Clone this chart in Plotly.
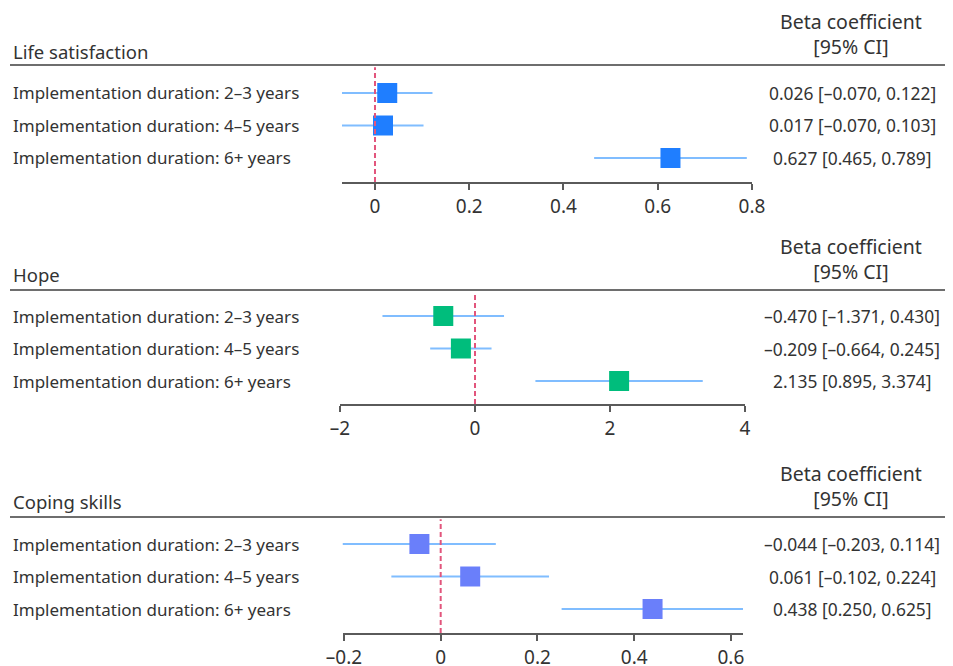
import plotly.graph_objects as go

# ---------------- data ----------------
panel_titles = ["Life satisfaction", "Hope", "Coping skills"]
row_labels = [
    "Implementation duration: 2–3 years",
    "Implementation duration: 4–5 years",
    "Implementation duration: 6+ years",
]
life_beta = [0.026, 0.017, 0.627]
life_lo = [-0.070, -0.070, 0.465]
life_hi = [0.122, 0.103, 0.789]
life_ticks = [0, 0.2, 0.4, 0.6, 0.8]
life_ticktext = ["0", "0.2", "0.4", "0.6", "0.8"]

hope_beta = [-0.470, -0.209, 2.135]
hope_lo = [-1.371, -0.664, 0.895]
hope_hi = [0.430, 0.245, 3.374]
hope_ticks = [-2, 0, 2, 4]
hope_ticktext = ["–2", "0", "2", "4"]

coping_beta = [-0.044, 0.061, 0.438]
coping_lo = [-0.203, -0.102, 0.250]
coping_hi = [0.114, 0.224, 0.625]
coping_ticks = [-0.2, 0, 0.2, 0.4, 0.6]
coping_ticktext = ["–0.2", "0", "0.2", "0.4", "0.6"]

col_header = "Beta coefficient<br>[95% CI]"

# ---------------- style / layout (window pixels) ----------------
OFF = 8                 # default page margin around the figure
WIN_W, WIN_H = 953, 666
W, H = WIN_W - OFF, WIN_H - OFF

marker_colors = ["#1f7eff", "#00bd7c", "#6a7ffa"]
ci_color = "#80bdff"
ref_color = "#e2557c"
text_color = "#333333"
font_family = "Noto Sans, Open Sans, sans-serif"

header_y = [65, 290, 517]      # gray header line (px from top of window)
axis_y = [182, 404, 633]       # x-axis line
title_y = [51, 274, 501]       # panel title centre
plot_left = [342, 340, 342.5]
plot_right = [752, 745, 743]
first_row_px = [93, 316, 544]
row_step = 32.5

panels = [
    (life_beta, life_lo, life_hi, life_ticks, life_ticktext),
    (hope_beta, hope_lo, hope_hi, hope_ticks, hope_ticktext),
    (coping_beta, coping_lo, coping_hi, coping_ticks, coping_ticktext),
]


def py(px):
    return 1 - (px - OFF) / H


def pxx(px):
    return (px - OFF) / W


fig = go.Figure()
annotations = []
shapes = []
layout_axes = {}

for i, (beta, lo, hi, ticks, ticktext) in enumerate(panels):
    n = i + 1
    xname = "x" if n == 1 else f"x{n}"
    yname = "y" if n == 1 else f"y{n}"
    xkey = "xaxis" if n == 1 else f"xaxis{n}"
    ykey = "yaxis" if n == 1 else f"yaxis{n}"
    rows = list(range(len(beta)))

    fig.add_trace(go.Scatter(
        x=beta, y=rows, xaxis=xname, yaxis=yname, mode="markers",
        marker=dict(symbol="square", size=20, color=marker_colors[i],
                    line=dict(width=0)),
        error_x=dict(type="data", symmetric=False,
                     array=[h - b for h, b in zip(hi, beta)],
                     arrayminus=[b - l for b, l in zip(beta, lo)],
                     color=ci_color, thickness=2, width=0),
        cliponaxis=False, showlegend=False, hoverinfo="skip",
    ))

    xmin = min(min(lo), min(ticks))
    xmax = max(max(hi), max(ticks))
    layout_axes[xkey] = dict(
        domain=[pxx(plot_left[i]), pxx(plot_right[i])],
        range=[xmin, xmax], anchor=yname,
        showline=True, linecolor="#5a5a5a", linewidth=2,
        ticks="outside", ticklen=6, tickwidth=2, tickcolor="#5a5a5a",
        tickvals=ticks, ticktext=ticktext,
        tickfont=dict(size=19, color=text_color, family=font_family),
        showgrid=False, zeroline=False, fixedrange=True, automargin=False,
    )
    top_val = -(first_row_px[i] - header_y[i]) / row_step
    bot_val = (len(beta) - 1) + (axis_y[i] - (first_row_px[i] + row_step * (len(beta) - 1))) / row_step
    layout_axes[ykey] = dict(
        domain=[py(axis_y[i]), py(header_y[i])],
        range=[bot_val, top_val], anchor=xname,
        visible=False, fixedrange=True, automargin=False,
    )

    shapes.append(dict(type="line", xref=xname, yref=f"{yname} domain",
                       x0=0, x1=0, y0=0, y1=0.98,
                       line=dict(color=ref_color, width=2, dash="5px,3px")))
    shapes.append(dict(type="line", xref="paper", yref="paper",
                       x0=pxx(10), x1=1, y0=py(header_y[i]), y1=py(header_y[i]),
                       line=dict(color="#6e6e6e", width=2)))

    annotations.append(dict(text=panel_titles[i], xref="paper", yref="paper",
                            x=pxx(11), y=py(title_y[i]), xanchor="left",
                            yanchor="middle", showarrow=False,
                            font=dict(size=18.5, color=text_color, family=font_family)))
    annotations.append(dict(text=col_header, xref="paper", yref="paper",
                            x=pxx(851), y=py(header_y[i] - 31), xanchor="center",
                            yanchor="middle", showarrow=False, align="center",
                            font=dict(size=19.5, color=text_color, family=font_family)))

    for r in rows:
        annotations.append(dict(text=row_labels[r], xref="paper", yref=yname,
                                x=pxx(11), y=r, xanchor="left", yanchor="middle",
                                showarrow=False,
                                font=dict(size=17, color=text_color, family=font_family)))
        ci_txt = f"{beta[r]:.3f} [{lo[r]:.3f}, {hi[r]:.3f}]".replace("-", "–")
        annotations.append(dict(text=ci_txt, xref="paper", yref=yname,
                                x=pxx(852), y=r, xanchor="center", yanchor="middle",
                                showarrow=False,
                                font=dict(size=17.4, color=text_color, family=font_family)))

fig.update_layout(
    width=W, height=H, autosize=False,
    margin=dict(l=0, r=0, t=0, b=0, pad=0, autoexpand=False),
    paper_bgcolor="white", plot_bgcolor="white",
    shapes=shapes, annotations=annotations,
    **layout_axes,
)

fig.write_html("out.html")
